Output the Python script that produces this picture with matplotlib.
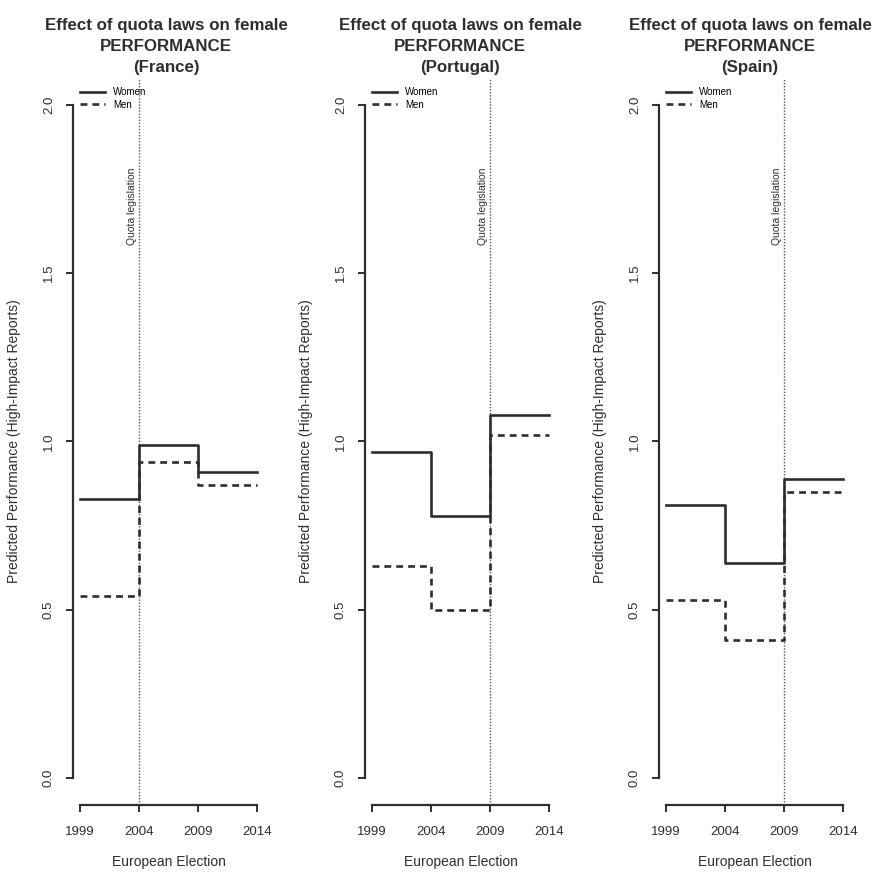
import matplotlib
matplotlib.use("Agg")
import matplotlib.pyplot as plt

plt.rcParams['font.family'] = ['Liberation Sans', 'DejaVu Sans']

years = [1999, 2004, 2009, 2014]
countries = ["France", "Portugal", "Spain"]
quota_year = [2004, 2009, 2009]
women = [
    [0.83, 0.99, 0.91],
    [0.97, 0.78, 1.08],
    [0.81, 0.64, 0.89],
]
men = [
    [0.54, 0.94, 0.87],
    [0.63, 0.50, 1.02],
    [0.53, 0.41, 0.85],
]
yticks = [0.0, 0.5, 1.0, 1.5, 2.0]
ytick_labels = ["0.0", "0.5", "1.0", "1.5", "2.0"]

W, H = 874, 872
fig = plt.figure(figsize=(W / 100, H / 100), dpi=100)

lefts_px = [73, 365, 659]
ax_w_px = 191
top_px, bot_px = 78, 805
title_centers_px = [166, 460, 750]

ink = "#2e2e2e"

for i, c in enumerate(countries):
    ax = fig.add_axes([lefts_px[i] / W, 1 - bot_px / H, ax_w_px / W, (bot_px - top_px) / H])
    ax.set_xlim(1998.4, 2014.6)
    ax.set_ylim(-0.08, 2.08)
    for s in ["top", "right"]:
        ax.spines[s].set_visible(False)
    ax.spines["left"].set_bounds(0, 2)
    ax.spines["bottom"].set_bounds(1999, 2014)
    for s in ["left", "bottom"]:
        ax.spines[s].set_linewidth(1.6)
        ax.spines[s].set_color(ink)

    ax.axvline(quota_year[i], color="#555555", linestyle=(0, (1, 1.2)), lw=1.0, zorder=1)
    ax.text(quota_year[i] - 0.15, 1.70, "Quota legislation", rotation=90,
            ha="right", va="center", fontsize=7.5, color=ink)

    wy = women[i] + [women[i][-1]]
    my = men[i] + [men[i][-1]]
    ax.plot(years, wy, drawstyle="steps-post", color=ink, lw=1.9, label="Women", zorder=3)
    ax.plot(years, my, drawstyle="steps-post", color=ink, lw=1.9,
            linestyle=(0, (2.6, 1.9)), label="Men", zorder=3)

    ax.set_xticks(years)
    ax.set_xticklabels([str(y) for y in years])
    ax.set_yticks(yticks)
    ax.set_yticklabels(ytick_labels, rotation=90, va="center")
    ax.tick_params(axis="both", length=5, width=1.4, color=ink, labelsize=9.5, labelcolor=ink)
    ax.tick_params(axis="x", pad=10)
    ax.tick_params(axis="y", pad=8)

    ax.set_xlabel("European Election", fontsize=10, color=ink, labelpad=12)
    ax.set_ylabel("Predicted Performance (High-Impact Reports)", fontsize=10, color=ink, labelpad=16)

    fig.text(title_centers_px[i] / W, 1 - 18 / H,
             "Effect of quota laws on female\nPERFORMANCE\n(%s)" % c,
             fontsize=12.2, fontweight="bold", color=ink, ha="center", va="top",
             linespacing=1.5)

    ax.legend(loc="upper left", bbox_to_anchor=(0.015, 0.993), frameon=False,
              fontsize=7, handlelength=2.6, handletextpad=0.8, labelspacing=0.3,
              borderaxespad=0.0)

fig.savefig("out.png", dpi=100)
